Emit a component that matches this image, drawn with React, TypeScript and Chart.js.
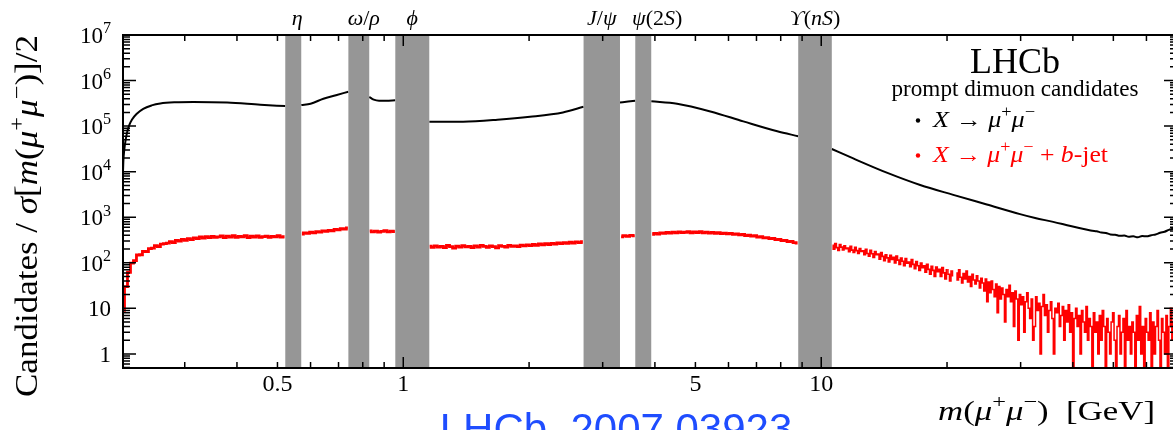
import { useEffect, useRef } from "react";
import { Chart, registerables } from "chart.js";

Chart.register(...registerables);

// ---------- axis ranges ----------
const X_MIN = 0.2135;
const X_MAX = 71;
const Y_MIN = 0.49;
const Y_MAX = 1e7;

// ---------- tick labels ----------
const xTickValues = [0.5, 1, 5, 10];
const xTickLabels = ["0.5", "1", "5", "10"];
const yTickValues = [1, 10, 1e2, 1e3, 1e4, 1e5, 1e6, 1e7];
const yTickBase = ["1", "10", "10", "10", "10", "10", "10", "10"];
const yTickExp = ["", "", "2", "3", "4", "5", "6", "7"];

// ---------- vetoed resonance windows (GeV) ----------
const bandNames = ["η", "ω/ρ", "ϕ", "J/ψ", "ψ(2S)", "ϒ(nS)"];
const bandLow = [0.522, 0.739, 0.957, 2.7, 3.59, 8.81];
const bandHigh = [0.57, 0.829, 1.154, 3.3, 3.92, 10.6];

// ---------- X -> mu+ mu- (black) ----------
const blackMass = [
  0.2135, 0.214, 0.215, 0.2165, 0.2183, 0.221, 0.2244, 0.23, 0.2387, 0.25, 0.2622, 0.285, 0.3147, 0.379, 0.455, 0.522,
  0.545,
  0.57, 0.6, 0.644, 0.69, 0.739,
  0.78,
  0.829, 0.85, 0.875, 0.91, 0.957,
  1.05,
  1.154, 1.39, 1.68, 2.01, 2.41, 2.7,
  3.0,
  3.3, 3.45, 3.59,
  3.75,
  3.92, 4.52, 5.43, 6.51, 7.85, 8.81,
  9.7,
  10.6, 11.93, 14.4, 17.25, 20.7, 24.9, 29.9, 32.5, 35.9, 39.5, 43.3, 44.5, 45.6, 46.8, 48.0, 49.2, 50.5, 51.8, 53.1,
  54.4, 55.8, 57.2, 58.6, 60.1, 61.6, 63.1, 64.7, 66.3, 67.9, 69.5, 71,
];
const blackCount = [
  1.0e4, 1.8e4, 3.0e4, 4.8e4, 7.2e4, 1.05e5, 1.4e5, 1.85e5, 2.4e5, 2.85e5, 3.15e5, 3.35e5, 3.4e5, 3.3e5, 2.95e5, 2.75e5,
  null,
  2.9e5, 3.1e5, 4.0e5, 4.75e5, 5.7e5,
  null,
  4.4e5, 3.8e5, 3.6e5, 3.6e5, 3.7e5,
  null,
  1.24e5, 1.25e5, 1.38e5, 1.6e5, 2.0e5, 2.65e5,
  null,
  3.3e5, 3.45e5, 3.6e5,
  null,
  3.5e5, 3.1e5, 2.1e5, 1.27e5, 7.7e4, 6.0e4,
  null,
  3.15e4, 1.95e4, 9.4e3, 5.1e3, 3.1e3, 1.9e3, 1170, 960, 790, 640, 531, 505, 492, 462, 452, 418, 412, 390, 398,
  372, 380, 362, 388, 380, 404, 418, 456, 480, 528, 560, 610,
];

// ---------- X -> mu+ mu- + b-jet (red histogram), one array per window between vetoes ----------
const redSegmentStart = [0.2135, 0.572, 0.831, 1.156, 3.32, 3.94, 10.64, 21.05];
const redSegmentEnd = [0.52, 0.737, 0.955, 2.69, 3.58, 8.78, 20.7, 71];
const redCountsA = [
  9, 30, 62, 98, 112, 148, 150, 178, 176, 205, 210, 238, 226, 256, 262, 270, 292, 276, 310, 300, 326, 312, 340, 322,
  352, 338, 368, 350, 376, 356, 380, 362, 372, 388, 358, 384, 366, 392, 360, 378, 370, 394, 356, 382, 368, 390, 362,
  376, 386, 360, 380, 372, 392, 366, 376,
];
const redCountsB = [428, 452, 440, 468, 455, 480, 470, 500, 488, 515, 505, 540, 528, 560, 552, 585];
const redCountsC = [500, 478, 495, 470, 488, 505, 476, 492, 482];
const redCountsD = [
  232, 218, 236, 222, 228, 214, 240, 226, 210, 232, 220, 238, 224, 230, 216, 234, 222, 240, 228, 218, 236, 226, 212,
  238, 230, 222, 242, 228, 236, 226, 244, 234, 248, 238, 252, 242, 258, 248, 262, 252, 266, 258, 272, 262, 276, 268,
  282, 272, 288, 278, 292,
];
const redCountsE = [372, 392, 380, 398, 388];
const redCountsF = [
  420, 440, 428, 452, 440, 462, 448, 470, 452, 476, 458, 468, 480, 456, 474, 462, 482, 452, 470, 448, 464, 440, 456,
  436, 448, 430, 444, 420, 432, 408, 420, 396, 402, 384, 392, 366, 374, 352, 358, 338, 342, 322, 326, 306, 310, 290,
  294, 276, 272,
];
const redCountsG = [
  240, 198, 262, 214, 186, 250, 220, 192, 236, 204,
  210, 176, 228, 190, 168, 218, 184, 160, 206, 178,
  182, 150, 196, 160, 140, 188, 158, 132, 176, 150,
  156, 120, 168, 138, 112, 150, 128, 104, 146, 118,
  132, 100, 140, 114, 92, 126, 108, 86, 124, 98,
  104, 82, 118, 92, 74, 106, 86, 68, 98, 78,
  86, 62, 92, 72, 56, 84, 68, 50, 80, 64,
  72, 50, 78, 60, 44, 70, 56, 40, 66, 52,
];
const redCountsH = [
  60, 42, 70, 48, 36, 58, 44, 66, 38, 50, 30, 56, 42, 34, 52,
  40, 28, 46, 36, 24, 44, 14, 38, 22, 40, 26, 18, 34, 8, 30,
  16, 28, 20, 5, 26, 18, 32, 14, 22, 4, 24, 16, 2, 20, 12,
  18, 3, 14, 22, 10, 6, 16, 2, 4, 18, 9, 13, 1, 11, 20,
  7, 12, 3, 9, 14, 6, 1, 10, 8, 13, 4, 7, 11, 2, 9,
  5, 12, 3, 8, 0, 6, 10, 4, 7, 1, 9, 5, 3, 11, 2,
  6, 4, 0, 8, 3, 5, 1, 7, 2, 9, 4, 0, 6, 3, 1,
  5, 8, 2, 0, 4, 7, 1, 3, 6, 0, 9, 2, 4, 1, 5,
  3, 0, 7, 2, 11, 1, 4, 0, 6, 3, 2, 8, 0, 5, 1,
  4, 9, 2, 0, 6, 3, 1, 7, 0, 4, 10, 2, 5, 1, 3,
];
const redCounts = [redCountsA, redCountsB, redCountsC, redCountsD, redCountsE, redCountsF, redCountsG, redCountsH];

// ---------- text ----------
const SERIF = '"Liberation Serif", "DejaVu Serif", serif';
type Seg = { t: string; it?: boolean; sup?: boolean };

const yTitle: Seg[] = [
  { t: "Candidates / " },
  { t: "σ", it: true },
  { t: "[" },
  { t: "m", it: true },
  { t: "(" },
  { t: "μ", it: true },
  { t: "+", sup: true },
  { t: "μ", it: true },
  { t: "−", sup: true },
  { t: ")]/2" },
];
const xTitle: Seg[] = [
  { t: "m", it: true },
  { t: "(" },
  { t: "μ", it: true },
  { t: "+", sup: true },
  { t: "μ", it: true },
  { t: "−", sup: true },
  { t: ")  [GeV]" },
];
const legendBlack: Seg[] = [
  { t: "X", it: true },
  { t: " → " },
  { t: "μ", it: true },
  { t: "+", sup: true },
  { t: "μ", it: true },
  { t: "−", sup: true },
];
const legendRed: Seg[] = [...legendBlack, { t: " + " }, { t: "b", it: true }, { t: "-jet" }];
const bandLabelSegs: Record<string, Seg[]> = {
  "η": [{ t: "η", it: true }],
  "ω/ρ": [{ t: "ω", it: true }, { t: "/" }, { t: "ρ", it: true }],
  "ϕ": [{ t: "ϕ", it: true }],
  "J/ψ": [{ t: "J", it: true }, { t: "/" }, { t: "ψ", it: true }],
  "ψ(2S)": [{ t: "ψ", it: true }, { t: "(2" }, { t: "S", it: true }, { t: ")" }],
  "ϒ(nS)": [{ t: "ϒ", it: true }, { t: "(" }, { t: "nS", it: true }, { t: ")" }],
};
const bandLabelDx: Record<string, number> = { "η": 4, "ω/ρ": 5, "ψ(2S)": 14 };

function segFont(s: Seg, size: number) {
  const sz = s.sup ? size * 0.7 : size;
  return `${s.it ? "italic " : ""}${sz}px ${SERIF}`;
}
function richWidth(ctx: CanvasRenderingContext2D, segs: Seg[], size: number) {
  let w = 0;
  for (const s of segs) {
    ctx.font = segFont(s, size);
    w += ctx.measureText(s.t).width;
  }
  return w;
}
function drawRich(
  ctx: CanvasRenderingContext2D,
  segs: Seg[],
  x: number,
  y: number,
  size: number,
  align: "left" | "center" | "right",
  color: string,
  targetWidth?: number
) {
  const w = richWidth(ctx, segs, size);
  const sx = targetWidth ? targetWidth / w : 1;
  const total = w * sx;
  const start = align === "left" ? x : align === "center" ? x - total / 2 : x - total;
  ctx.save();
  ctx.translate(start, y);
  ctx.scale(sx, 1);
  ctx.fillStyle = color;
  ctx.textAlign = "left";
  ctx.textBaseline = "alphabetic";
  let cx = 0;
  for (const s of segs) {
    ctx.font = segFont(s, size);
    ctx.fillText(s.t, cx, s.sup ? -size * 0.42 : 0);
    cx += ctx.measureText(s.t).width;
  }
  ctx.restore();
}

function logTicks(min: number, max: number) {
  const out: { v: number; major: boolean }[] = [];
  for (let d = Math.floor(Math.log10(min)); d <= Math.ceil(Math.log10(max)); d++) {
    for (let k = 1; k <= 9; k++) {
      const v = Number((k * Math.pow(10, d)).toPrecision(3));
      if (v >= min && v <= max) out.push({ v, major: k === 1 });
    }
  }
  return out;
}

const lhcbPlugin = {
  id: "lhcbDecor",
  afterDatasetsDraw(chart: any) {
    const { ctx, chartArea: a } = chart;
    const xs = chart.scales.x;
    const ys = chart.scales.y;
    ctx.save();
    // veto bands (cover the curves)
    ctx.fillStyle = "#969696";
    bandLow.forEach((lo, i) => {
      const x0 = xs.getPixelForValue(lo);
      const x1 = xs.getPixelForValue(bandHigh[i]);
      ctx.fillRect(x0, a.top, x1 - x0, a.bottom - a.top);
    });
    // ticks
    ctx.strokeStyle = "#000";
    ctx.lineWidth = 1.5;
    ctx.beginPath();
    for (const t of logTicks(X_MIN, X_MAX)) {
      const px = xs.getPixelForValue(t.v);
      const len = t.major ? 11 : 6;
      ctx.moveTo(px, a.bottom);
      ctx.lineTo(px, a.bottom - len);
      ctx.moveTo(px, a.top);
      ctx.lineTo(px, a.top + len);
    }
    for (const t of logTicks(Y_MIN, Y_MAX)) {
      const py = ys.getPixelForValue(t.v);
      const len = t.major ? 13 : 7;
      ctx.moveTo(a.left, py);
      ctx.lineTo(a.left + len, py);
      ctx.moveTo(a.right, py);
      ctx.lineTo(a.right - len, py);
    }
    ctx.stroke();
    // frame
    ctx.lineWidth = 2;
    ctx.strokeRect(a.left, a.top, a.right - a.left, a.bottom - a.top);

    // x tick labels
    ctx.fillStyle = "#000";
    ctx.font = `24px ${SERIF}`;
    ctx.textAlign = "center";
    ctx.textBaseline = "alphabetic";
    xTickValues.forEach((v, i) => {
      ctx.fillText(xTickLabels[i], xs.getPixelForValue(v), 391);
    });
    // y tick labels
    yTickValues.forEach((v, i) => {
      const py = ys.getPixelForValue(v);
      const segs: Seg[] = [{ t: yTickBase[i] }];
      if (yTickExp[i]) segs.push({ t: yTickExp[i], sup: true });
      drawRich(ctx, segs, 111, py + 8, 23, "right", "#000");
    });
    // band labels
    bandNames.forEach((n, i) => {
      const c = Math.sqrt(bandLow[i] * bandHigh[i]);
      const px = xs.getPixelForValue(c) + (bandLabelDx[n] || 0);
      drawRich(ctx, bandLabelSegs[n], px, 25, 22, "center", "#000");
    });
    // axis titles
    drawRich(ctx, xTitle, 938, 420, 28, "left", "#000", 217);
    ctx.save();
    ctx.translate(37, 397);
    ctx.rotate(-Math.PI / 2);
    drawRich(ctx, yTitle, 0, 0, 31, "left", "#000", 362);
    ctx.restore();

    // LHCb label and legend
    ctx.fillStyle = "#000";
    ctx.font = `36px ${SERIF}`;
    ctx.textAlign = "center";
    ctx.fillText("LHCb", 1015, 73);
    drawRich(ctx, [{ t: "prompt dimuon candidates" }], 1015, 96, 23, "center", "#000", 247);
    const cols = chart.data.datasets.map((d: any) => d.borderColor);
    ctx.fillStyle = cols[0];
    ctx.beginPath();
    ctx.arc(918, 120.5, 2.2, 0, Math.PI * 2);
    ctx.fill();
    drawRich(ctx, legendBlack, 933, 127, 23, "left", cols[0], 102);
    ctx.fillStyle = cols[1];
    ctx.beginPath();
    ctx.arc(918, 155.5, 2.2, 0, Math.PI * 2);
    ctx.fill();
    drawRich(ctx, legendRed, 933, 162, 23, "left", cols[1], 175);

    // blue reference tag at the bottom (cut by the page edge)
    ctx.fillStyle = "#1f4dff";
    ctx.font = '42px "Liberation Sans", Arial, sans-serif';
    ctx.textAlign = "center";
    ctx.fillText("LHCb  2007.03923", 616, 443);
    ctx.restore();
  },
};

function binCenters(start: number, end: number, n: number) {
  const out: number[] = [];
  for (let i = 0; i < n; i++) out.push(start * Math.pow(end / start, n === 1 ? 0 : i / (n - 1)));
  return out;
}

export default function App() {
  const ref = useRef<HTMLCanvasElement>(null);
  useEffect(() => {
    const canvas = ref.current;
    if (!canvas) return;
    const blackPts = blackMass.map((m, i) => ({ x: m, y: blackCount[i] as number | null }));
    const redPts: { x: number; y: number | null }[] = [];
    redCounts.forEach((vals, s) => {
      const ms = binCenters(redSegmentStart[s], redSegmentEnd[s], vals.length);
      vals.forEach((v, i) => redPts.push({ x: ms[i], y: v > 0 ? v : 0.1 }));
      if (s < redCounts.length - 1) {
        redPts.push({ x: Math.sqrt(redSegmentEnd[s] * redSegmentStart[s + 1]), y: null });
      }
    });
    const W = 1185;
    const H = 430;
    const chart = new Chart(canvas, {
      type: "line",
      data: {
        datasets: [
          {
            label: "X → μ+μ−",
            data: blackPts as any,
            borderColor: "#000000",
            borderWidth: 2,
            pointRadius: 0,
            cubicInterpolationMode: "monotone",
            spanGaps: false,
            clip: 0,
          },
          {
            label: "X → μ+μ− + b-jet",
            data: redPts as any,
            borderColor: "#ff0000",
            borderWidth: 2,
            pointRadius: 0,
            stepped: "middle",
            spanGaps: false,
            clip: 0,
            segment: {
              borderWidth: (c: any) => (c.p0.parsed.x > 20 ? 1.5 : c.p0.parsed.x > 10 ? 1.7 : 2.8),
            },
          } as any,
        ],
      },
      options: {
        animation: false,
        responsive: false,
        devicePixelRatio: 1,
        events: [],
        layout: { padding: { left: 123, right: W - 1177, top: 35, bottom: H - 368 } },
        scales: {
          x: { type: "logarithmic", min: X_MIN, max: X_MAX, display: false },
          y: { type: "logarithmic", min: Y_MIN, max: Y_MAX, display: false },
        },
        plugins: { legend: { display: false }, tooltip: { enabled: false } },
      },
      plugins: [lhcbPlugin],
    });
    return () => chart.destroy();
  }, []);
  return (
    <div
      style={{
        position: "absolute",
        left: 0,
        top: 0,
        width: 1173,
        height: 430,
        overflow: "hidden",
        background: "#fff",
      }}
    >
      <canvas ref={ref} width={1185} height={430} style={{ display: "block", width: 1185, height: 430 }} />
    </div>
  );
}
